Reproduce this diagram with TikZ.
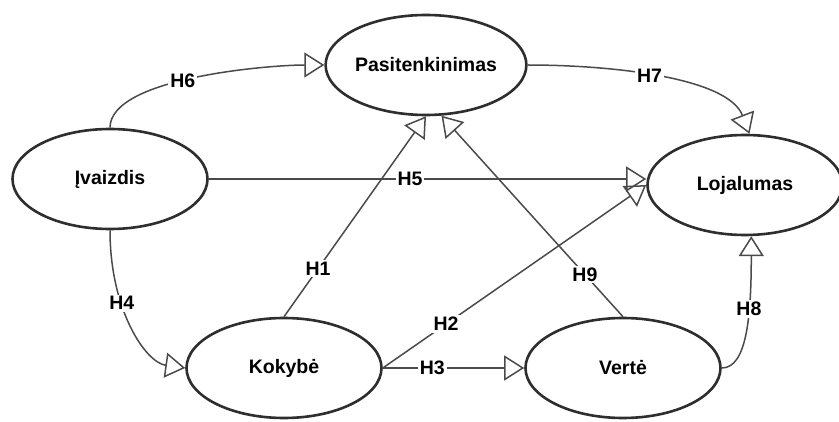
\documentclass[tikz,border=0pt]{standalone}
\usepackage{fontspec}
\setmainfont{Liberation Sans}
\usetikzlibrary{shapes.geometric,arrows.meta}
\definecolor{edgec}{HTML}{2E2E2E}
\definecolor{linkc}{HTML}{4A4A4A}
\begin{document}
\begin{tikzpicture}[x=1pt,y=1pt,
  construct/.style={ellipse,draw=edgec,line width=2.6pt,minimum width=195pt,minimum height=100pt,inner sep=0pt,
    font=\fontsize{19.5}{22}\selectfont\bfseries},
  link/.style={draw=linkc,line width=1.5pt,-{Triangle[open,length=20pt,width=25pt,line width=1.5pt]}},
  lab/.style={fill=white,inner sep=2pt,text=black,font=\fontsize{19.5}{22}\selectfont\bfseries}]
\useasboundingbox (0,0) rectangle (839,421);
\node[construct] (P) at (426,356) {Pasitenkinimas};
\node[construct] (L) at (745,236) {Lojalumas};
\node[construct] (I) at (110,242) {Įvaizdis};
\node[construct] (K) at (284,53) {Kokybė};
\node[construct] (V) at (623,53) {Vertė};

\draw[link] (I.north) to[out=90,in=180,out distance=50pt,in distance=55pt] node[lab,pos=0.45] {H6} (P.west);
\draw[link] (P.east) to[out=0,in=111,out distance=85pt,in distance=60pt] node[lab,pos=0.45] {H7} (L.85);
\draw[link] (I.east) -- node[lab,pos=0.46] {H5} (L.west |- I.east);
\draw[link] (I.south) to[out=-90,in=172,out distance=80pt,in distance=40pt] node[lab,pos=0.35] {H4} (K.west);
\draw[link] (K.north) -- node[lab,pos=0.24] {H1} (P.south);
\draw[link] (V.north) -- node[lab,pos=0.21] {H9} (P.-73);
\draw[link] (K.east) -- node[lab,pos=0.24] {H2} (L.west);
\draw[link] (K.east) -- node[lab,pos=0.35] {H3} (V.west);
\draw[link] (V.east) to[out=0,in=-90,out distance=25pt,in distance=80pt] node[lab,pos=0.65] {H8} (L.-83);
\end{tikzpicture}
\end{document}
